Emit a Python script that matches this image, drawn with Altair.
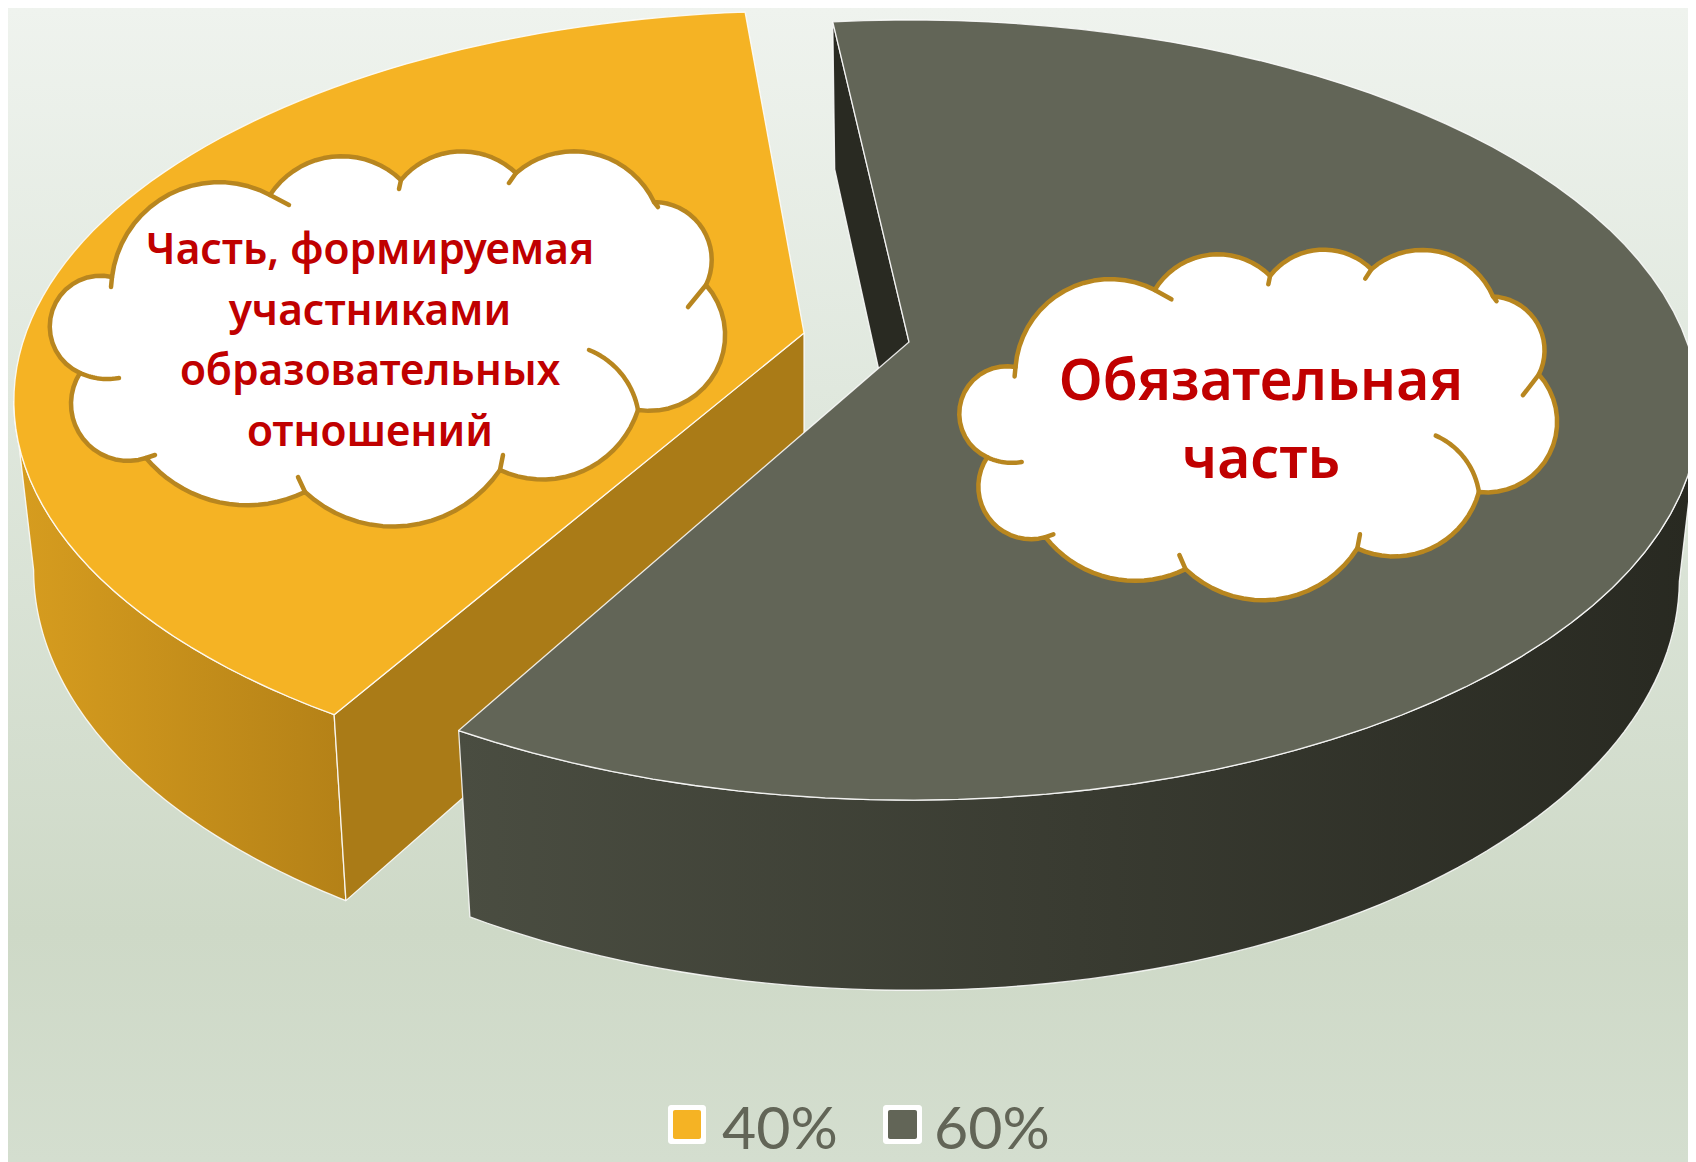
import math
import altair as alt
import pandas as pd

W, H = 1680, 1154
OX, OY = 8, 8

# chart values
categories = ["40%", "60%"]
shares = [40, 60]
slice_start_deg = [210.9, -6.6]      # where each slice begins, clockwise from the far side
top_apex = [(804, 333), (909, 342)]
bottom_apex = [(804, 498), (909, 507)]
wall_span = [(0, 49), (-109, 0)]     # part of the outer wall that faces the viewer

# look of the pie
c_persp, a_persp, d_persp = 0.1744, 378.2, 778
bottom_sx, bottom_sy = 0.975, 1.055
top_colors = ["#F5B324", "#626557"]
cut_colors = ["#AA7B17", "#292A22"]
wall_stops = [["#D79D1F", "#B48117"], ["#4A4D41", "#282921"]]

# cloud template: outline cusps, bulge of each arc, short inner hooks
cloud_cusps = [(112, 277), (270, 195), (401, 180), (516, 173), (654, 202), (706, 285),
               (638, 410), (500, 470), (305, 492), (146, 458), (80, 373)]
cloud_bulge = [47, 31, 25, 35, 27, 50, 34, 45, 28, 38, 46]
cloud_hooks = [((112, 277), (111, 287), 0), ((270, 195), (289, 205), 0),
               ((401, 180), (399, 189), 0), ((516, 173), (509, 183), 0),
               ((654, 202), (658, 207), 0), ((706, 285), (688, 307), 0),
               ((638, 410), (589, 350), -10), ((500, 470), (503, 455), 0),
               ((305, 492), (298, 477), 0), ((146, 458), (155, 455), 0),
               ((80, 373), (119, 378), -3)]
cloud_place = [(112, 277, 1.0, 1.0), (1015.5, 367, 0.881, 0.94)]

label_lines = [["Часть, формируемая", "участниками", "образовательных", "отношений"],
               ["Обязательная", "часть"]]
label_x = [370, 1261]
label_base = [[264, 325, 385, 446], [400, 478]]
label_size = [42.5, 57]

legend_swatch = [(668, 706, 1105, 1144), (883, 922, 1105, 1144)]
legend_text_x = [722, 934]
legend_base = 1149

xs = alt.Scale(domain=[OX, OX + W])
ys = alt.Scale(domain=[OY + H, OY])


def project(theta_deg, apex, sx=1.0, sy=1.0):
    t = math.radians(theta_deg)
    u, v = math.sin(t), math.cos(t)
    w = 1 + c_persp * v
    return (apex[0] + sx * d_persp * u / w, apex[1] - sy * a_persp * v / w)


def rim(a, b, apex, sx=1.0, sy=1.0, n=80):
    return [project(a + (b - a) * i / n, apex, sx, sy) for i in range(n + 1)]


def poly(points, fill, stroke="#FFFFFF", sw=1.3, so=0.85):
    df = pd.DataFrame(points, columns=["x", "y"])
    df["i"] = range(len(df))
    return alt.Chart(df).mark_line(
        fill=fill, stroke=stroke, strokeWidth=sw, strokeOpacity=so, clip=True,
        strokeJoin="round", strokeCap="round"
    ).encode(
        x=alt.X("x:Q", scale=xs, axis=None),
        y=alt.Y("y:Q", scale=ys, axis=None),
        order=alt.Order("i:Q"),
    )


def grad(c1, c2):
    return alt.Gradient(gradient="linear", x1=0, x2=1, y1=0, y2=0,
                        stops=[alt.GradientStop(color=c1, offset=0),
                               alt.GradientStop(color=c2, offset=1)])


layers = []

# page background
bg = alt.Chart(pd.DataFrame({"a": [0]})).mark_rect(
    fill=alt.Gradient(gradient="linear", x1=0, x2=0, y1=0, y2=1, stops=[
        alt.GradientStop(color="#EFF3EE", offset=0),
        alt.GradientStop(color="#E0E8DE", offset=0.33),
        alt.GradientStop(color="#CED9C7", offset=0.8),
        alt.GradientStop(color="#D4DECF", offset=1),
    ])
).encode(x=alt.value(0), x2=alt.value(W), y=alt.value(0), y2=alt.value(H))
layers.append(bg)

for k in range(2):
    a0 = slice_start_deg[k]
    a1 = a0 + 360 * shares[k] / sum(shares)
    ta, ba = top_apex[k], bottom_apex[k]
    # outer wall, front part only
    w0 = a0 + wall_span[k][0] if k == 0 else a1 + wall_span[k][0]
    w1 = a0 + wall_span[k][1] if k == 0 else a1 + wall_span[k][1]
    wall = rim(w0, w1, ta) + rim(w1, w0, ba, bottom_sx, bottom_sy)
    wall.append(wall[0])
    layers.append(poly(wall, grad(*wall_stops[k])))
    # flat cut wall
    cut = [ta, project(a0, ta), project(a0, ba, bottom_sx, bottom_sy), ba, ta]
    layers.append(poly(cut, cut_colors[k]))
    # top face
    top = [ta] + rim(a0, a1, ta) + [ta]
    layers.append(poly(top, top_colors[k]))


def arc(p, q, s, n=18):
    dx, dy = q[0] - p[0], q[1] - p[1]
    L = math.hypot(dx, dy)
    nx, ny = dy / L, -dx / L
    if abs(s) < 1e-6:
        return [p, q]
    R = (L * L / 4 + s * s) / (2 * abs(s))
    sign = 1 if s > 0 else -1
    mx, my = (p[0] + q[0]) / 2, (p[1] + q[1]) / 2
    cx, cy = mx - sign * nx * (R - abs(s)), my - sign * ny * (R - abs(s))
    a0 = math.atan2(p[1] - cy, p[0] - cx)
    a1 = math.atan2(q[1] - cy, q[0] - cx)
    d = a1 - a0
    while d > math.pi:
        d -= 2 * math.pi
    while d < -math.pi:
        d += 2 * math.pi
    return [(cx + R * math.cos(a0 + d * i / n), cy + R * math.sin(a0 + d * i / n))
            for i in range(n + 1)]


for ox, oy, fx, fy in cloud_place:
    def tr(p):
        return (ox + (p[0] - 112) * fx, oy + (p[1] - 277) * fy)
    fs = (fx + fy) / 2
    outline = []
    for i, p in enumerate(cloud_cusps):
        q = cloud_cusps[(i + 1) % len(cloud_cusps)]
        outline += arc(tr(p), tr(q), cloud_bulge[i] * fs)
    outline.append(outline[0])
    layers.append(poly(outline, "#FFFFFF", "#B8861F", 4.5, 1))
    for p, q, s in cloud_hooks:
        layers.append(poly(arc(tr(p), tr(q), s * fs), "transparent", "#B8861F", 4.5, 1))

for k in range(2):
    df = pd.DataFrame({"t": label_lines[k], "x": label_x[k], "y": label_base[k]})
    layers.append(alt.Chart(df).mark_text(
        font="Noto Sans", fontWeight=600, fontSize=label_size[k], color="#C00000",
        align="center", baseline="alphabetic"
    ).encode(x=alt.X("x:Q", scale=xs, axis=None), y=alt.Y("y:Q", scale=ys, axis=None), text="t:N"))

sw = pd.DataFrame({"x": [s[0] for s in legend_swatch], "x2": [s[1] for s in legend_swatch],
                   "y": [s[2] for s in legend_swatch], "y2": [s[3] for s in legend_swatch],
                   "c": top_colors, "tx": legend_text_x, "t": categories, "b": legend_base})
layers.append(alt.Chart(sw).mark_rect(fill="#FFFFFF", cornerRadius=3).encode(
    x=alt.X("x:Q", scale=xs, axis=None), x2="x2:Q",
    y=alt.Y("y:Q", scale=ys, axis=None), y2="y2:Q"))
sw2 = sw.assign(x=sw.x + 5, x2=sw.x2 - 5, y=sw.y + 5, y2=sw.y2 - 5)
layers.append(alt.Chart(sw2).mark_rect(cornerRadius=2).encode(
    x=alt.X("x:Q", scale=xs, axis=None), x2="x2:Q",
    y=alt.Y("y:Q", scale=ys, axis=None), y2="y2:Q",
    fill=alt.Fill("c:N", scale=None, legend=None)))
layers.append(alt.Chart(sw).mark_text(
    font="Lato", fontWeight=400, fontSize=59, color="#626557", align="left", baseline="alphabetic"
).encode(x=alt.X("tx:Q", scale=xs, axis=None), y=alt.Y("b:Q", scale=ys, axis=None), text="t:N"))

chart = alt.layer(*layers).properties(
    width=W, height=H, padding=0, autosize=alt.AutoSizeParams(type="none"),
    view=alt.ViewConfig(stroke=None)
).configure_view(stroke=None)

chart.save("out.html", embed_options={"renderer": "svg", "actions": False})
